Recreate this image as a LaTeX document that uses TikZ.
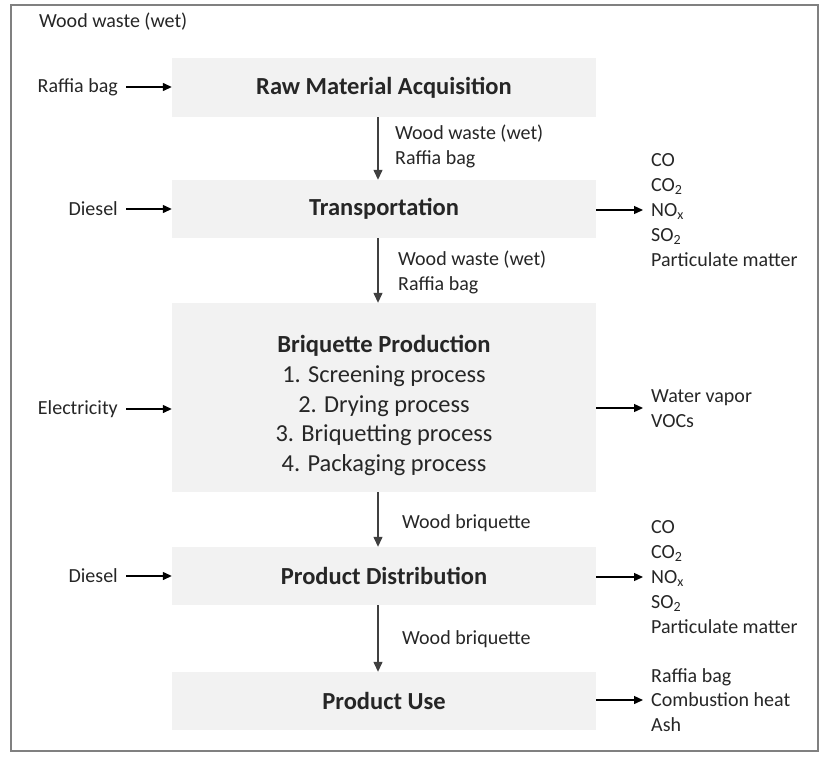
\documentclass[tikz,border=0pt]{standalone}
\usepackage{fontspec}
\setmainfont{Carlito}
\usetikzlibrary{arrows.meta}
\definecolor{boxfill}{HTML}{F2F2F2}
\definecolor{txt}{HTML}{262626}
\definecolor{frame}{HTML}{808080}
\begin{document}
\begin{tikzpicture}[x=1pt,y=-1pt,
  stage/.style={fill=boxfill,draw=none,minimum width=424pt,inner sep=0pt,text=txt,font=\fontsize{24.5}{30}\selectfont\bfseries},
  lbl/.style={inner sep=0pt,text=txt,font=\fontsize{20}{24.8}\selectfont,align=left},
  arr/.style={draw=black,line width=1.3pt,-{Triangle[length=9pt,width=8pt]}},
  varr/.style={draw=black!75,line width=1.3pt,-{Triangle[length=10pt,width=9pt]}}]
\useasboundingbox (0,0) rectangle (821,756);
\draw[frame,line width=1.8pt] (11,5) rectangle (818,751);

% stages
\node[stage,minimum height=59pt] (b1) at (384,87.5) {Raw Material Acquisition};
\node[stage,minimum height=58pt] (b2) at (384,209) {Transportation};
\node[stage,minimum height=189pt] (b3) at (384,397.5) {};
\node[inner sep=0pt,align=center,text=txt,font=\fontsize{24.4}{29.8}\selectfont] (b3t) at (384,405.5)
  {{\fontsize{24.6}{29.8}\selectfont\bfseries Briquette Production}\\1. Screening process\\2. Drying process\\3. Briquetting process\\4. Packaging process};
\node[stage,minimum height=58pt] (b4) at (384,576) {Product Distribution};
\node[stage,minimum height=58pt] (b5) at (384,701) {Product Use};

% top-left label
\node[lbl,anchor=west] (ww) at (39,22) {Wood waste (wet)};

% inputs
\node[lbl,anchor=east] (in1) at (118,87) {Raffia bag};
\node[lbl,anchor=east] (in2) at (118,209) {Diesel};
\node[lbl,anchor=east] (in3) at (118,409) {Electricity};
\node[lbl,anchor=east] (in4) at (118,576) {Diesel};
\draw[arr] ([xshift=8pt]in1.east) -- (b1.west |- in1.east);
\draw[arr] ([xshift=8pt]in2.east) -- (b2.west |- in2.east);
\draw[arr] ([xshift=8pt]in3.east) -- (b3.west |- in3.east);
\draw[arr] ([xshift=8pt]in4.east) -- (b4.west |- in4.east);

% outputs
\node[lbl,anchor=west] (out2) at (651,210) {CO\\CO\textsubscript{2}\\NO\textsubscript{x}\\SO\textsubscript{2}\\Particulate matter};
\node[lbl,anchor=west] (out3) at (651,409) {Water vapor\\VOCs};
\node[lbl,anchor=west] (out4) at (651,577) {CO\\CO\textsubscript{2}\\NO\textsubscript{x}\\SO\textsubscript{2}\\Particulate matter};
\node[lbl,anchor=west] (out5) at (651,700) {Raffia bag\\Combustion heat\\Ash};
\draw[arr] (b2.east |- 0,210) coordinate (e2) -- ([xshift=-8pt]out2.west |- e2);
\draw[arr] (b3.east |- 0,408) coordinate (e3) -- ([xshift=-8pt]out3.west |- e3);
\draw[arr] (b4.east |- 0,577) coordinate (e4) -- ([xshift=-8pt]out4.west |- e4);
\draw[arr] (b5.east |- 0,700) coordinate (e5) -- ([xshift=-8pt]out5.west |- e5);

% flows
\draw[varr] ([xshift=-6pt]b1.south) -- ([xshift=-6pt]b2.north);
\draw[varr] ([xshift=-6pt]b2.south) -- ([xshift=-6pt]b3.north);
\draw[varr] ([xshift=-6pt]b3.south) -- ([xshift=-6pt]b4.north);
\draw[varr] ([xshift=-6pt]b4.south) -- ([xshift=-6pt]b5.north);
\node[lbl,anchor=west] (f1) at (395,146.5) {Wood waste (wet)\\Raffia bag};
\node[lbl,anchor=west] (f2) at (398,272) {Wood waste (wet)\\Raffia bag};
\node[lbl,anchor=west] (f3) at (402,523) {Wood briquette};
\node[lbl,anchor=west] (f4) at (402,639) {Wood briquette};
\end{tikzpicture}
\end{document}
